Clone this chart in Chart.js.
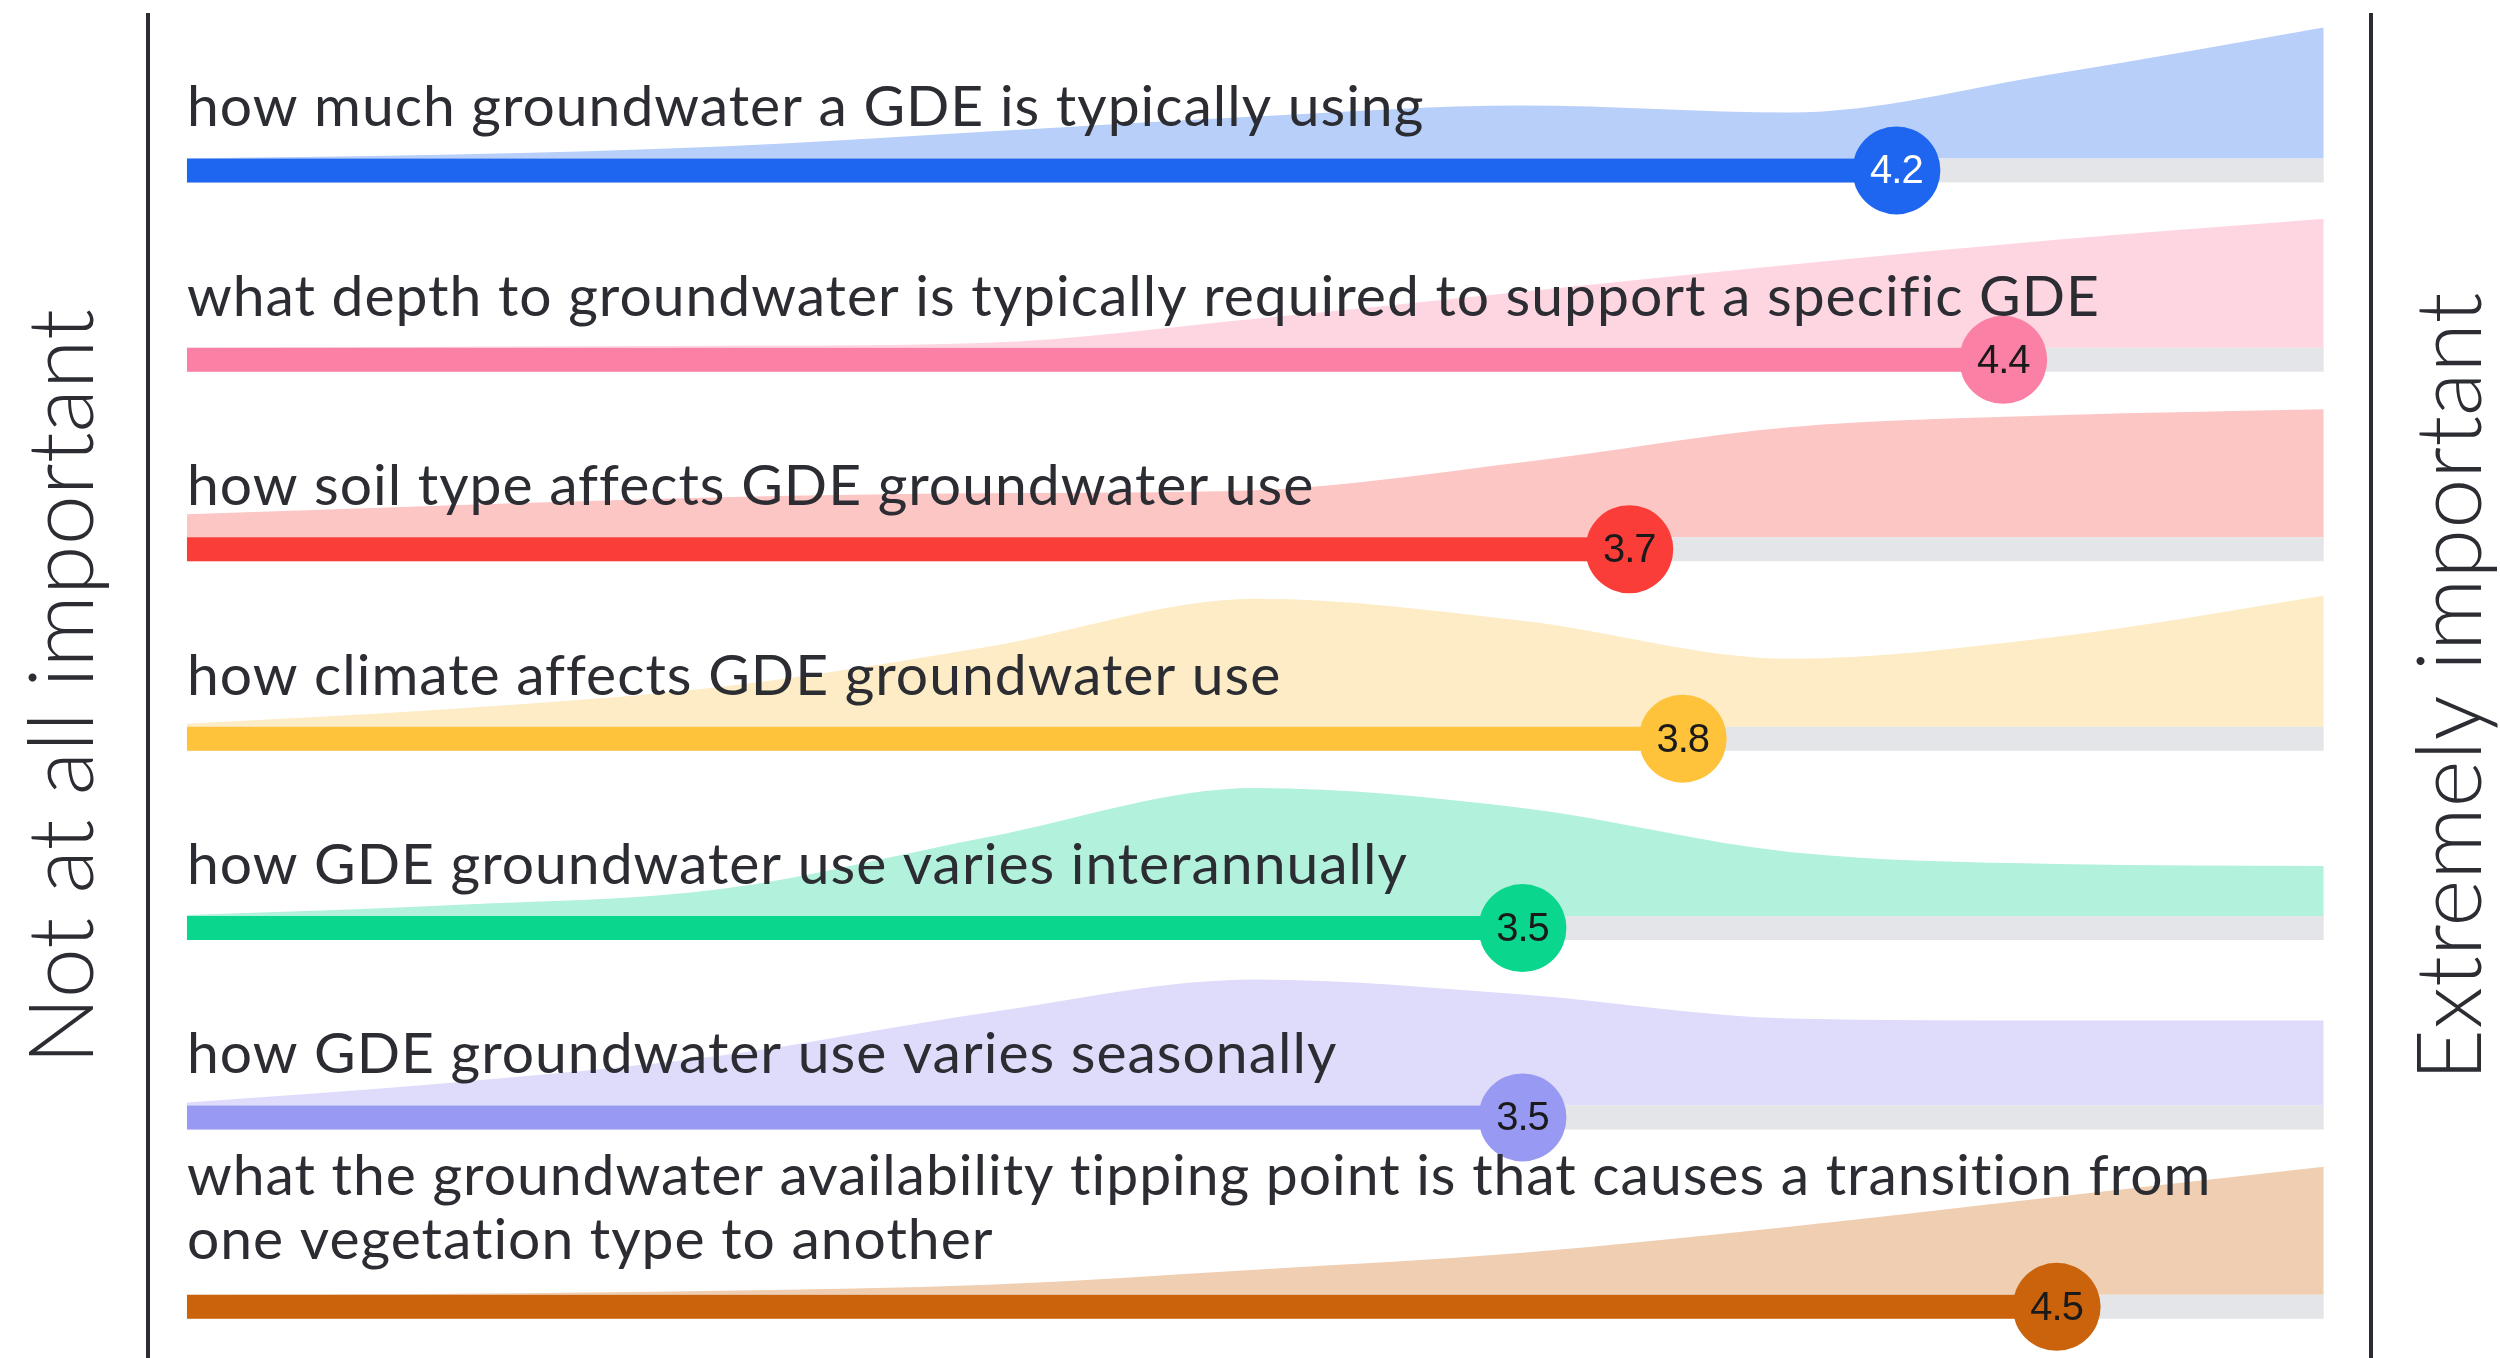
<!DOCTYPE html>
<html>
<head>
<meta charset="utf-8">
<title>Importance of GDE knowledge topics</title>
<script src="https://cdn.jsdelivr.net/npm/chart.js@4.4.1/dist/chart.umd.min.js"></script>
<style>
  html, body { margin: 0; padding: 0; background: #fff; }
  #wrap { position: relative; width: 2500px; height: 1358px; }
</style>
</head>
<body>
<div id="wrap"><canvas id="ridgeChart"></canvas></div>
<script>
// survey topics, one row each (second entry = wrapped line)
const topics = [
    ['how much groundwater a GDE is typically using'],
    ['what depth to groundwater is typically required to support a specific GDE'],
    ['how soil type affects GDE groundwater use'],
    ['how climate affects GDE groundwater use'],
    ['how GDE groundwater use varies interannually'],
    ['how GDE groundwater use varies seasonally'],
    ['what the groundwater availability tipping point is that causes a transition from', 'one vegetation type to another']
];
const meanScores = [4.2, 4.4, 3.7, 3.8, 3.5, 3.5, 4.5];

// response distribution along the 1-5 scale (relative density)
const scaleSteps = [1, 1.5, 2, 2.5, 3, 3.5, 4, 4.5, 5];
const densUsing = [0, 4, 12, 27, 42, 53, 46, 85, 131];
const densDepth = [0, 1, 2, 5, 29, 56, 83, 108, 129];
const densSoil = [23, 32, 40, 44, 47, 75, 110, 122, 128];
const densClimate = [3, 18, 40, 80, 128, 106, 68, 90, 131];
const densInterannual = [1, 11, 27, 79, 128, 108, 64, 52, 50];
const densSeasonal = [3, 23, 50, 93, 126, 111, 87, 85, 85];
const densTipping = [0, 1, 4, 10, 25, 42, 68, 98, 128];
const densities = [densUsing, densDepth, densSoil, densClimate, densInterannual, densSeasonal, densTipping];

const axisLow = 'Not at all important';
const axisHigh = 'Extremely important';

const barColors = ['#1e66f0', '#fb80a5', '#fb3d3a', '#fec33a', '#0ad68e', '#9899f2', '#cb630c'];
const areaColors = ['#b8cff9', '#fdd6e1', '#fcc6c5', '#fdecc5', '#b2f1dc', '#dedcfa', '#efceb1'];
const valueTextColors = ['#ffffff', '#1a1a1a', '#1a1a1a', '#1a1a1a', '#1a1a1a', '#1a1a1a', '#1a1a1a'];
const trackColor = '#e4e5e8';
const inkColor = '#2b2d33';

const W = 2500, H = 1358;
const ROW_MIN = -0.9, ROW_MAX = 6.27;
const X_MIN = 0.65, X_MAX = 5.33;
const rowPx = H / (ROW_MAX - ROW_MIN);
const BAR_W = 24;
const barHalf = (BAR_W / 2) / rowPx;

const datasets = [];

datasets.push({
    type: 'scatter',
    data: meanScores.map((v, i) => ({ x: v, y: i })),
    pointRadius: 44,
    pointHoverRadius: 44,
    pointBackgroundColor: barColors,
    pointBorderWidth: 0,
    clip: false,
    order: 0
});

topics.forEach((t, i) => {
    datasets.push({
        type: 'line',
        data: [{ x: 1, y: i }, { x: meanScores[i], y: i }],
        borderColor: barColors[i],
        borderWidth: BAR_W,
        borderCapStyle: 'butt',
        pointRadius: 0,
        fill: false,
        clip: false,
        order: 1
    });
    datasets.push({
        type: 'line',
        data: [{ x: 1, y: i }, { x: 5, y: i }],
        borderColor: trackColor,
        borderWidth: BAR_W,
        borderCapStyle: 'butt',
        pointRadius: 0,
        fill: false,
        clip: false,
        order: 2
    });
    datasets.push({
        type: 'line',
        data: scaleSteps.map((s, k) => ({ x: s, y: i - barHalf - densities[i][k] / rowPx })),
        backgroundColor: areaColors[i],
        borderColor: 'rgba(0,0,0,0)',
        borderWidth: 0,
        pointRadius: 0,
        cubicInterpolationMode: 'monotone',
        fill: { value: i - barHalf },
        clip: false,
        order: 3
    });
});

const textLayer = {
    id: 'textLayer',
    afterDatasetsDraw(chart) {
        const ctx = chart.ctx;
        const xs = chart.scales.x, ys = chart.scales.y;
        const circles = chart.getDatasetMeta(0).data;
        ctx.save();

        // values inside the dots
        ctx.font = '40px "Liberation Sans", Arial, sans-serif';
        ctx.letterSpacing = '-1px';
        ctx.textAlign = 'center';
        ctx.textBaseline = 'middle';
        circles.forEach((pt, i) => {
            ctx.fillStyle = valueTextColors[i];
            ctx.fillText(meanScores[i].toFixed(1), pt.x, pt.y + 2);
        });

        // row labels
        ctx.font = '57px Lato, "Open Sans", sans-serif';
        ctx.letterSpacing = '1px';
        ctx.textAlign = 'left';
        ctx.textBaseline = 'alphabetic';
        ctx.fillStyle = inkColor;
        const left = xs.getPixelForValue(1);
        topics.forEach((lines, i) => {
            const cy = ys.getPixelForValue(i);
            const n = lines.length;
            lines.forEach((line, j) => {
                const off = n > 1 ? 48 + (n - 1 - j) * 64 : 44;
                ctx.fillText(line, left, cy - off);
            });
        });
        ctx.letterSpacing = '0px';
        ctx.restore();
    },
    afterDraw(chart) {
        const ctx = chart.ctx;
        ctx.save();
        ctx.strokeStyle = inkColor;
        ctx.lineWidth = 4;
        [148, 2371].forEach(x => {
            ctx.beginPath();
            ctx.moveTo(x, 13);
            ctx.lineTo(x, H);
            ctx.stroke();
        });

        ctx.fillStyle = inkColor;
        ctx.font = '300 90px Lato, "Open Sans", sans-serif';
        ctx.textAlign = 'center';
        ctx.textBaseline = 'middle';
        [[64, axisLow], [2452, axisHigh]].forEach(([x, label]) => {
            ctx.save();
            ctx.translate(x, 687);
            ctx.rotate(-Math.PI / 2);
            ctx.fillText(label, 0, 0);
            ctx.restore();
        });
        ctx.restore();
    }
};

const chart = new Chart(document.getElementById('ridgeChart'), {
    type: 'line',
    data: { datasets: datasets },
    options: {
        responsive: true,
        maintainAspectRatio: false,
        animation: false,
        events: [],
        layout: { padding: 0, autoPadding: false },
        plugins: { legend: { display: false }, tooltip: { enabled: false } },
        scales: {
            x: { type: 'linear', min: X_MIN, max: X_MAX, display: false },
            y: { type: 'linear', min: ROW_MIN, max: ROW_MAX, reverse: true, display: false }
        }
    },
    plugins: [textLayer]
});
</script>
</body>
</html>
